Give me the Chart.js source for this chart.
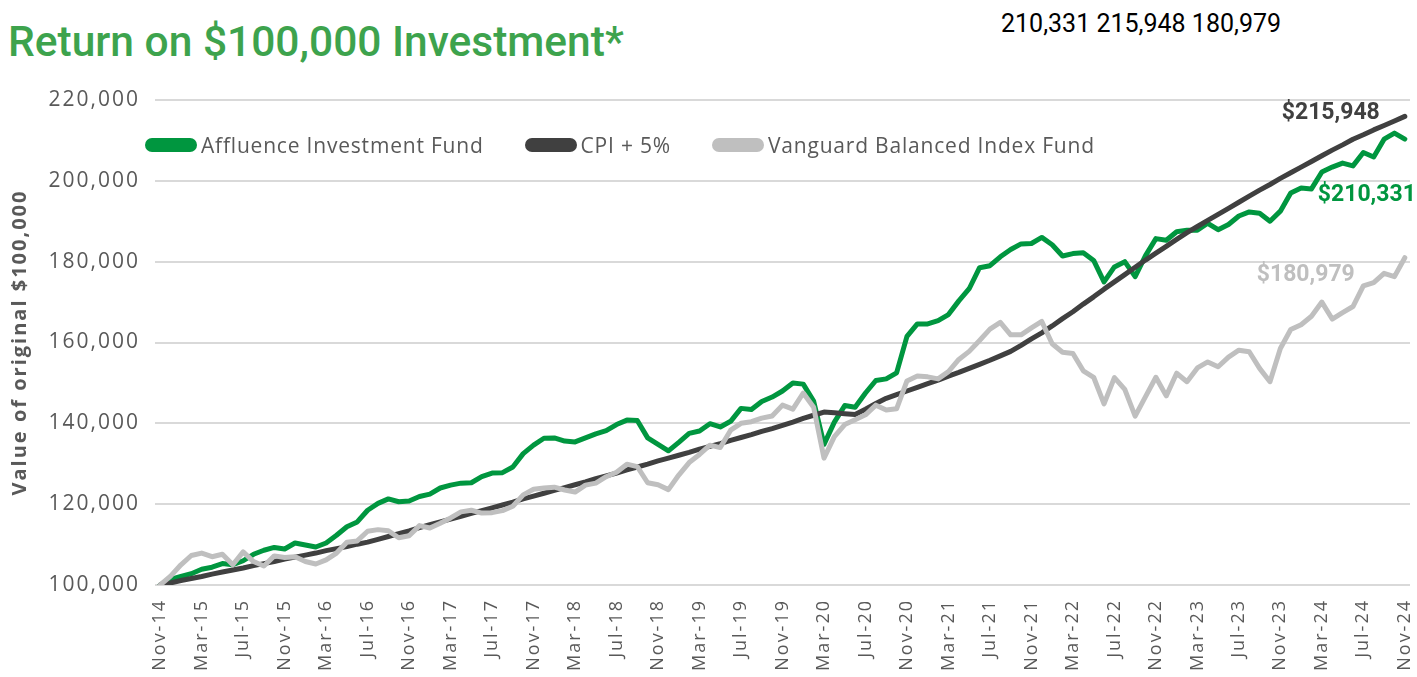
<!DOCTYPE html>
<html>
<head>
<meta charset="utf-8">
<script src="https://cdn.jsdelivr.net/npm/chart.js@4.4.1/dist/chart.umd.min.js"></script>
<style>
  html, body { margin: 0; padding: 0; background: #fff; }
  body { width: 1417px; height: 677px; position: relative; overflow: hidden; font-family: Roboto, sans-serif; }
  #title { position: absolute; left: 8px; top: 17px; font-size: 42.5px; font-weight: 500; color: #3da34d; white-space: nowrap; }
  #stray { position: absolute; left: 1001px; top: 9px; font-size: 25px; color: #000; white-space: nowrap; }
  #legend { position: absolute; left: 145px; top: 131px; display: flex; align-items: center; font-family: "Open Sans", sans-serif; font-size: 21px; letter-spacing: 0.8px; color: #595959; white-space: nowrap; }
  #legend .item { display: flex; align-items: center; margin-right: 41px; }
  #legend .pill { width: 52px; height: 14px; border-radius: 7px; margin-right: 4px; }
  canvas { position: absolute; left: 0; top: 0; }
</style>
</head>
<body>
<div id="title">Return on $100,000 Investment*</div>
<div id="stray">210,331 215,948 180,979</div>
<canvas id="chart" width="1417" height="677"></canvas>
<div id="legend"></div>
<script>
// monthly, Nov-14 .. Nov-24
const monthNames = ['Jan', 'Feb', 'Mar', 'Apr', 'May', 'Jun', 'Jul', 'Aug', 'Sep', 'Oct', 'Nov', 'Dec'];
const months = [];
for (let i = 0; i <= 120; i++) {
    const m = (10 + i) % 12;
    const y = 14 + Math.floor((10 + i) / 12);
    months.push(monthNames[m] + '-' + y);
}

const tickLabels = [
    'Nov-14', 'Mar-15', 'Jul-15', 'Nov-15', 'Mar-16', 'Jul-16', 'Nov-16', 'Mar-17', 'Jul-17', 'Nov-17',
    'Mar-18', 'Jul-18', 'Nov-18', 'Mar-19', 'Jul-19', 'Nov-19', 'Mar-20', 'Jul-20', 'Nov-20', 'Mar-21',
    'Jul-21', 'Nov-21', 'Mar-22', 'Jul-22', 'Nov-22', 'Mar-23', 'Jul-23', 'Nov-23', 'Mar-24', 'Jul-24', 'Nov-24'
];

const seriesNames = ['Affluence Investment Fund', 'CPI + 5%', 'Vanguard Balanced Index Fund'];
const seriesColors = ['#00963f', '#404040', '#bfbfbf'];

const affluence = [
    100000, 101400, 102100, 102800, 103900, 104400, 105300, 105000, 106000, 107600,
    108600, 109300, 108900, 110400, 109900, 109400, 110400, 112300, 114400, 115600,
    118500, 120200, 121300, 120600, 120800, 121900, 122500, 124000, 124700, 125200,
    125300, 126800, 127700, 127800, 129200, 132500, 134600, 136300, 136400, 135600,
    135400, 136400, 137400, 138200, 139700, 140800, 140700, 136400, 134800, 133200,
    135300, 137500, 138100, 139900, 139100, 140500, 143700, 143400, 145400, 146500,
    148000, 150000, 149700, 145500, 134800, 140300, 144400, 144000, 147500, 150600,
    151000, 152500, 161500, 164600, 164600, 165400, 166900, 170300, 173300, 178500,
    179000, 181200, 183000, 184400, 184500, 186000, 184200, 181400, 182000, 182200,
    180300, 175000, 178700, 180000, 176300, 181500, 185700, 185300, 187400, 187800,
    187800, 189500, 187900, 189200, 191300, 192300, 192000, 190000, 192500, 197000,
    198200, 198000, 202200, 203400, 204400, 203700, 207000, 205900, 210300, 211800,
    210331
];

const cpiPlus5 = [
    100000, 100500, 101100, 101600, 102100, 102700, 103200, 103700, 104200, 104800,
    105300, 105800, 106400, 106900, 107400, 107900, 108500, 109000, 109500, 110100,
    110600, 111300, 112000, 112700, 113400, 114200, 114900, 115600, 116300, 117000,
    117700, 118400, 119100, 119800, 120500, 121300, 122000, 122700, 123400, 124100,
    124800, 125500, 126300, 127000, 127700, 128500, 129200, 129900, 130700, 131400,
    132100, 132800, 133600, 134300, 135000, 135800, 136500, 137200, 138000, 138700,
    139500, 140300, 141200, 142000, 142800, 142600, 142400, 142200, 143500, 144900,
    146200, 147100, 148000, 148900, 149800, 150700, 151700, 152600, 153600, 154600,
    155600, 156700, 157800, 159300, 160900, 162400, 164100, 165900, 167600, 169500,
    171300, 173200, 175000, 176800, 178600, 180400, 182100, 183800, 185500, 187200,
    188700, 190200, 191700, 193200, 194700, 196200, 197700, 199100, 200600, 202000,
    203400, 204800, 206200, 207600, 208900, 210300, 211400, 212600, 213700, 214800,
    215948
];

const vanguard = [
    100000, 102200, 105000, 107300, 107900, 107000, 107600, 105000, 108200, 105800,
    104700, 107200, 106800, 107000, 105800, 105200, 106200, 107900, 110600, 110900,
    113300, 113700, 113400, 111700, 112200, 114700, 114100, 115300, 116600, 118100,
    118500, 117800, 117900, 118400, 119500, 122300, 123700, 124000, 124200, 123500,
    123000, 124700, 125200, 126800, 127900, 129900, 129300, 125300, 124800, 123600,
    127200, 130300, 132300, 134600, 134000, 138300, 140000, 140400, 141300, 141800,
    144500, 143500, 147500, 144000, 131400, 136700, 139700, 140900, 142100, 144500,
    143300, 143600, 150500, 151700, 151500, 151000, 152800, 155800, 157800, 160500,
    163300, 165000, 161900, 161900, 163600, 165200, 159700, 157600, 157300, 153000,
    151400, 144800, 151300, 148400, 141800, 146600, 151400, 146800, 152400, 150300,
    153700, 155200, 154000, 156400, 158100, 157700, 153600, 150300, 158500, 163200,
    164400, 166500, 170000, 165800, 167400, 168900, 174000, 174800, 177100, 176300,
    180979
];

const endLabels = ['$210,331', '$215,948', '$180,979'];

// legend
const legendEl = document.getElementById('legend');
seriesNames.forEach((name, i) => {
    const item = document.createElement('div');
    item.className = 'item';
    item.innerHTML = `<span class="pill" style="background:${seriesColors[i]}"></span><span>${name}</span>`;
    legendEl.appendChild(item);
});

// axis text is tracked out a bit, like the original
const spacingPlugin = {
    id: 'spacing',
    beforeDraw(chart)         { chart.ctx.letterSpacing = '2px'; },
    beforeDatasetsDraw(chart) { chart.ctx.letterSpacing = '0px'; }
};

// value labels next to the last point of every line
const endLabelPlugin = {
    id: 'endLabels',
    afterDatasetsDraw(chart) {
        const ctx = chart.ctx;
        const place = [
            {dx: -87, dy: 56, align: 'left'},
            {dx: -25, dy: -3, align: 'right'},
            {dx: -50, dy: 18, align: 'right'}
        ];
        ctx.save();
        ctx.font = 'bold 23px Roboto';
        ctx.textBaseline = 'middle';
        chart.data.datasets.forEach((ds, i) => {
            const meta = chart.getDatasetMeta(i);
            const pt = meta.data[meta.data.length - 1];
            ctx.fillStyle = seriesColors[i];
            ctx.textAlign = place[i].align;
            ctx.fillText(endLabels[i], pt.x + place[i].dx, pt.y + place[i].dy);
        });
        ctx.restore();
    }
};

const PAD_LEFT = 4, PAD_BOTTOM = 4;

new Chart(document.getElementById('chart'), {
    type: 'line',
    data: {
        labels: months,
        datasets: [
            {label: seriesNames[0], data: affluence, borderColor: seriesColors[0], order: 3},
            {label: seriesNames[1], data: cpiPlus5,  borderColor: seriesColors[1], order: 2},
            {label: seriesNames[2], data: vanguard,  borderColor: seriesColors[2], order: 1}
        ]
    },
    options: {
        responsive: false,
        animation: false,
        layout: {padding: {top: 100, right: 7, bottom: PAD_BOTTOM, left: PAD_LEFT}},
        elements: {
            point: {radius: 0},
            line : {borderWidth: 5, tension: 0, borderCapStyle: 'round', borderJoinStyle: 'round'}
        },
        plugins: {
            legend : {display: false},
            title  : {display: false},
            tooltip: {enabled: false}
        },
        scales: {
            x: {
                offset: true,
                grid  : {display: false, drawTicks: false},
                border: {display: false},
                ticks : {
                    autoSkip   : false,
                    maxRotation: 90,
                    minRotation: 90,
                    padding    : 14,
                    color      : '#595959',
                    font       : {family: 'Open Sans', size: 18},
                    callback   : (v, i) => tickLabels.includes(months[i]) ? months[i] : null
                },
                afterFit: scale => {
                    scale.height = 677 - 585 - PAD_BOTTOM;
                    scale.paddingLeft = 0;
                    scale.paddingRight = 0;
                }
            },
            y: {
                min: 100000,
                max: 220000,
                grid  : {color: '#d9d9d9', lineWidth: 2, drawTicks: false},
                border: {display: false},
                ticks : {
                    stepSize: 20000,
                    padding : 15,
                    color   : '#595959',
                    font    : {family: 'Open Sans', size: 21},
                    callback: v => v.toLocaleString('en-US')
                },
                title: {
                    display: true,
                    text   : 'Value of original $100,000',
                    color  : '#595959',
                    font   : {family: 'Open Sans', size: 20, weight: 'bold'}
                },
                afterFit: scale => { scale.width = 155 - PAD_LEFT; }
            }
        }
    },
    plugins: [spacingPlugin, endLabelPlugin]
});
</script>
</body>
</html>
